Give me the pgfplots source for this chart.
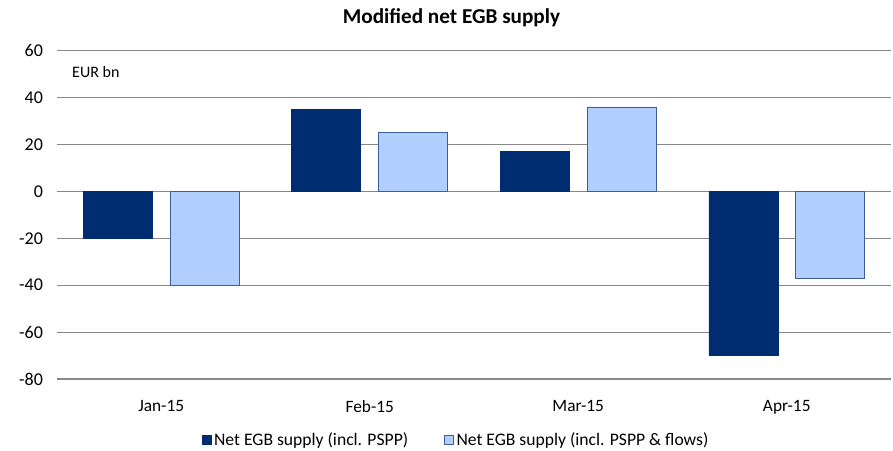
\documentclass[border=0pt]{standalone}
\usepackage{fontspec}
\setmainfont{Carlito}
\usepackage{pgfplots}
\pgfplotsset{compat=1.18}
\definecolor{darkbar}{RGB}{0,45,114}
\definecolor{lightbar}{RGB}{176,207,255}
\definecolor{lightedge}{RGB}{60,95,155}
\definecolor{gridgray}{RGB}{136,136,136}
\begin{document}
\begin{tikzpicture}
\begin{axis}[
  scale only axis,
  width=625.5pt, height=246.4pt,
  ybar, bar width=51.75pt,
  xmin=-0.5, xmax=3.5,
  ymin=-80, ymax=60,
  xtick={0,1,2,3},
  xticklabels={Jan-15,Feb-15,Mar-15,Apr-15},
  ytick={-80,-60,-40,-20,0,20,40,60},
  yticklabels={-80,-60,-40,-20,0,20,40,60},
  ymajorgrids,
  grid style={gridgray, line width=0.9pt},
  axis line style={draw=none},
  tick style={draw=none},
  yticklabel style={font=\fontsize{13.5}{16}\selectfont, xshift=-7pt},
  xticklabel style={font=\fontsize{13}{16}\selectfont, yshift=-8pt},
  clip=false,
  legend style={draw=none, at={(0.479,-0.186)}, anchor=center,
    legend columns=2, font=\fontsize{13.2}{16}\selectfont,
    /tikz/every even column/.append style={column sep=25pt},
    inner sep=0pt},
  legend image code/.code={\draw[#1, line width=0.6pt] (0pt,-3.3pt) rectangle (6.6pt,3.3pt);},
]
\addplot[fill=darkbar, draw=darkbar, bar shift=-32.6pt] coordinates {(0,-20) (1,35) (2,17) (3,-70)};
\addplot[fill=lightbar, draw=lightedge, bar shift=32.6pt] coordinates {(0,-40) (1,25) (2,36) (3,-37)};
\legend{Net EGB supply (incl. PSPP), Net EGB supply (incl. PSPP \& flows)}
\node[anchor=west, inner sep=0pt, font=\fontsize{12}{14}\selectfont] at (rel axis cs:0.018,0.9346) {EUR bn};
\node[font=\bfseries\fontsize{15.9}{19}\selectfont] at (rel axis cs:0.473,1.099) {Modified net EGB supply};
\path (rel axis cs:-0.0683,-0.2161) rectangle (rel axis cs:1.0024,1.1537);
\end{axis}
\end{tikzpicture}
\end{document}
